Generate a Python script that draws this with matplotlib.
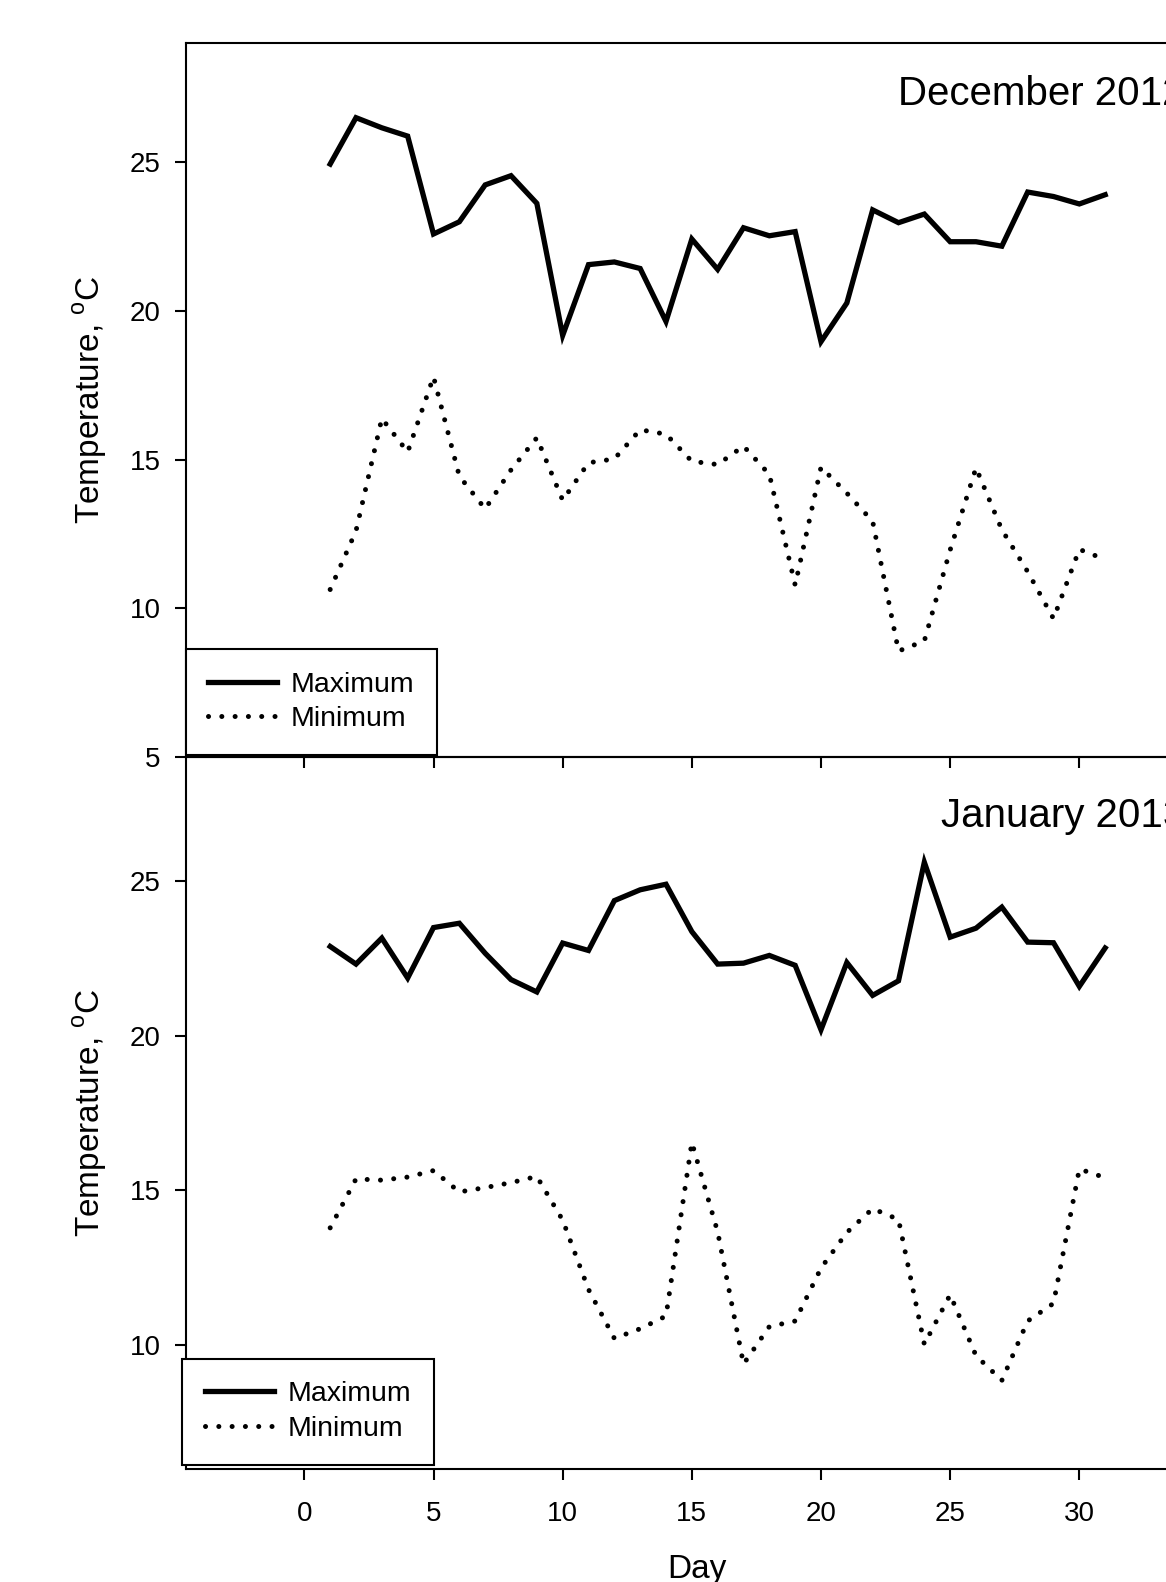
import matplotlib
matplotlib.use('Agg')
import matplotlib.pyplot as plt

days = list(range(1, 32))

# December 2012, daily temperatures (deg C)
dec_max = [24.93, 26.49, 26.15, 25.87, 22.58, 22.99, 24.23, 24.54, 23.61, 19.17,
           21.55, 21.64, 21.42, 19.64, 22.41, 21.39, 22.79, 22.52, 22.66, 18.96,
           20.26, 23.39, 22.96, 23.25, 22.32, 22.32, 22.17, 23.99, 23.84, 23.59, 23.9]
dec_min = [10.63, 12.6, 16.38, 15.25, 17.78, 14.44, 13.34, 14.65, 15.73, 13.63,
           14.89, 15.02, 16.0, 15.85, 14.94, 14.83, 15.45, 14.5, 10.78, 14.74,
           13.87, 12.92, 8.56, 8.9, 11.96, 14.72, 12.64, 11.23, 9.65, 11.98, 11.64]

# January 2013
jan_max = [22.88, 22.31, 23.15, 21.86, 23.49, 23.63, 22.66, 21.81, 21.41, 22.99,
           22.75, 24.36, 24.71, 24.89, 23.36, 22.31, 22.34, 22.59, 22.27, 20.19,
           22.36, 21.3, 21.77, 25.6, 23.18, 23.47, 24.15, 23.02, 23.0, 21.59, 22.83]
jan_min = [13.79, 15.37, 15.33, 15.43, 15.64, 14.95, 15.09, 15.25, 15.45, 14.04,
           11.8, 10.22, 10.53, 10.94, 16.55, 13.66, 9.39, 10.6, 10.78, 12.49,
           13.64, 14.41, 14.06, 10.03, 11.63, 9.66, 8.86, 10.78, 11.35, 15.69, 15.41]

x_ticks = [0, 5, 10, 15, 20, 25, 30]

plt.rcParams['font.family'] = ['Liberation Sans', 'DejaVu Sans']


def draw_panel(ax, max_vals, min_vals, title, title_pos, ylim, yticks, legend_anchor):
    ax.plot(days, max_vals, color='black', lw=3.8, solid_joinstyle='miter',
            label='Maximum')
    ax.plot(days, min_vals, color='black', lw=3.6, linestyle=(0, (0.01, 2.65)),
            dash_capstyle='round', label='Minimum')

    ax.set_xlim(-4.6, 35)
    ax.set_ylim(*ylim)
    ax.set_xticks(x_ticks)
    ax.set_yticks(yticks)

    for side in ax.spines.values():
        side.set_linewidth(1.5)
    ax.tick_params(direction='out', length=8, width=1.5, labelsize=20)
    ax.tick_params(axis='y', pad=10)
    ax.tick_params(axis='x', pad=15)

    ax.set_ylabel('Temperature, $^{\\mathregular{o}}$C', fontsize=24)
    ax.yaxis.set_label_coords(-0.075, 0.5)

    # the month label runs past the right edge, as in the original figure
    ax.text(title_pos[0], title_pos[1], title, transform=ax.transAxes,
            fontsize=29, va='baseline', ha='left')

    leg = ax.legend(loc='lower left', bbox_to_anchor=legend_anchor,
                    borderaxespad=0, fontsize=20.5, handlelength=2.4,
                    handletextpad=0.5, borderpad=0.8, labelspacing=0.3,
                    fancybox=False, framealpha=1, edgecolor='black')
    leg.get_frame().set_linewidth(1.5)


def main():
    fig = plt.figure(figsize=(11.66, 15.82), dpi=100)

    ax_bot = fig.add_axes([185.5 / 1166, 113 / 1582, 1023 / 1166, 712 / 1582])
    ax_top = fig.add_axes([185.5 / 1166, 825 / 1582, 1023 / 1166, 714 / 1582])
    ax_top.set_zorder(2)
    ax_top.patch.set_alpha(0)

    draw_panel(ax_top, dec_max, dec_min, 'December 2012', (0.6965, 0.913),
               (5, 29), [5, 10, 15, 20, 25], (0.0, 0.003))
    ax_top.tick_params(labelbottom=False)

    draw_panel(ax_bot, jan_max, jan_min, 'January 2013', (0.7385, 0.9017),
               (6, 29), [10, 15, 20, 25], (-0.003, 0.006))
    ax_bot.set_xlabel('Day', fontsize=24, va='top')
    ax_bot.xaxis.set_label_coords(0.5, -0.12)

    fig.savefig('out.png', dpi=100)


if __name__ == '__main__':
    main()
